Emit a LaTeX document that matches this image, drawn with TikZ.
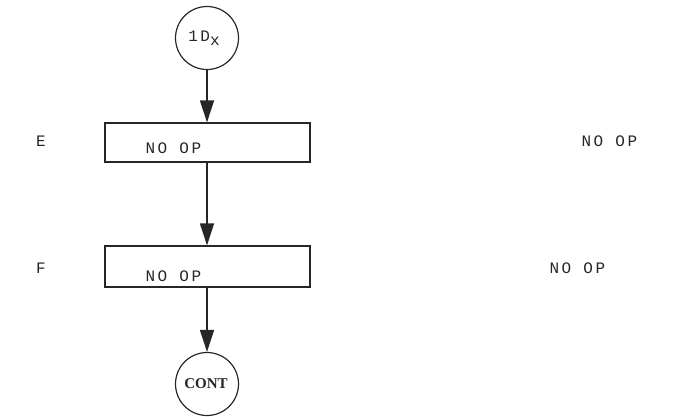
\documentclass[tikz,border=0pt]{standalone}
\usepackage{fontspec}
\newfontfamily\tw[LetterSpace=16]{Liberation Mono}
\newfontfamily\serifb{Liberation Serif}
\usetikzlibrary{arrows.meta}
\begin{document}
\begin{tikzpicture}[x=1pt,y=-1pt,
  ink/.style={draw=black!85,line width=1.2pt},
  term/.style={ink,circle,minimum size=63pt,inner sep=0pt},
  proc/.style={ink,rectangle,minimum width=205pt,inner sep=0pt},
  flow/.style={ink,line width=1.4pt,-{Triangle[width=14pt,length=22pt]}},
  lbl/.style={font=\tw\fontsize{16}{16}\selectfont,text=black!85}]
\useasboundingbox (0,0) rectangle (692,416);
\node[term] (start) at (207,38) {};
\node[lbl] (startt) at (204,38) {1D\raisebox{-4pt}{x}};
\node[proc,minimum height=39pt] (e) at (207.5,142.5) {};
\node[lbl,anchor=west] (et) at (142,148) {NO OP};
\node[proc,minimum height=41pt] (f) at (207.5,266.5) {};
\node[lbl,anchor=west] (ft) at (142,276) {NO OP};
\node[term] (cont) at (207,384) {};
\node[font=\serifb\bfseries\fontsize{15}{15}\selectfont,text=black!85] (contt) at (206,384) {CONT};
\node[lbl] (el) at (41,141) {E};
\node[lbl] (fl) at (41,268) {F};
\node[lbl,anchor=west] (er) at (578,141) {NO OP};
\node[lbl,anchor=west] (fr) at (546,268) {NO OP};
\draw[flow] (start.south) -- (start.south |- e.north);
\draw[flow] (e.south -| start.south) -- (start.south |- f.north);
\draw[flow] (f.south -| start.south) -- (cont.north);
\end{tikzpicture}
\end{document}
